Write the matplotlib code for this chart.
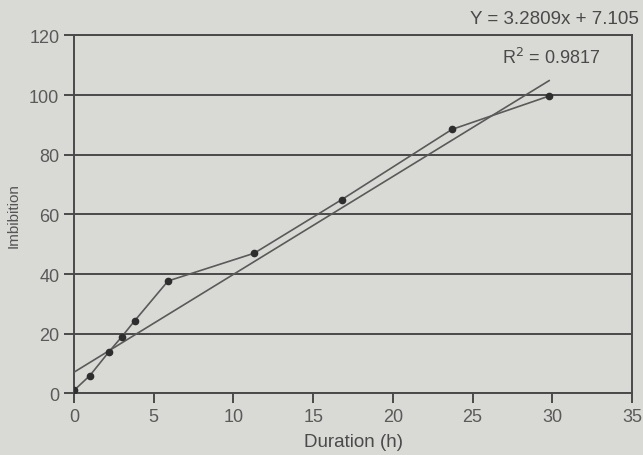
import matplotlib
matplotlib.use("Agg")
import matplotlib.pyplot as plt
import numpy as np

duration = [0, 1, 2.2, 3, 3.8, 5.9, 11.3, 16.8, 23.7, 29.8]
imbibition = [1, 6, 14, 19, 24.3, 37.7, 47, 65, 88.5, 99.7]
slope = 3.2809
intercept = 7.105
r2 = 0.9817
x_ticks = [0, 5, 10, 15, 20, 25, 30, 35]
y_ticks = [0, 20, 40, 60, 80, 100, 120]

plt.rcParams['font.family'] = ['Liberation Sans', 'DejaVu Sans']
bg = '#d9d9d6'
ink = '#4a4a4a'

fig = plt.figure(figsize=(6.43, 4.56), dpi=100, facecolor=bg)
ax = fig.add_axes([0.115, 0.135, 0.868, 0.785], facecolor=bg)

ax.set_xlim(0, 35)
ax.set_ylim(0, 120)
ax.set_xticks(x_ticks)
ax.set_yticks(y_ticks)
ax.grid(axis='y', color=ink, linewidth=1.4)
ax.set_axisbelow(True)
for s in ax.spines.values():
    s.set_color(ink)
    s.set_linewidth(1.4)
ax.tick_params(colors=ink, labelsize=13, length=7, width=1.4, labelcolor='#5a5a5a')

# trend line
tx = np.array([duration[0], duration[-1]])
ax.plot(tx, slope * tx + intercept, color='#5a5a5a', linewidth=1.2, zorder=3)
# data
ax.plot(duration, imbibition, color='#5a5a5a', linewidth=1.2, marker='o',
        markersize=4.5, markerfacecolor='#2e2e2e', markeredgecolor='#2e2e2e', zorder=4)

ax.set_xlabel('Duration (h)', fontsize=13.5, color='#4a4a4a', labelpad=6)
ax.set_ylabel('Imbibition', fontsize=11, color='#555555', labelpad=6)

fig.text(0.862, 0.958, f'Y = {slope}x + {intercept}', ha='center', va='center',
         fontsize=13.5, color='#4a4a4a')
fig.text(0.857, 0.872, f'R$^2$ = {r2}', ha='center', va='center',
         fontsize=13, color='#4a4a4a')

fig.savefig('out.png', dpi=100, facecolor=bg)
